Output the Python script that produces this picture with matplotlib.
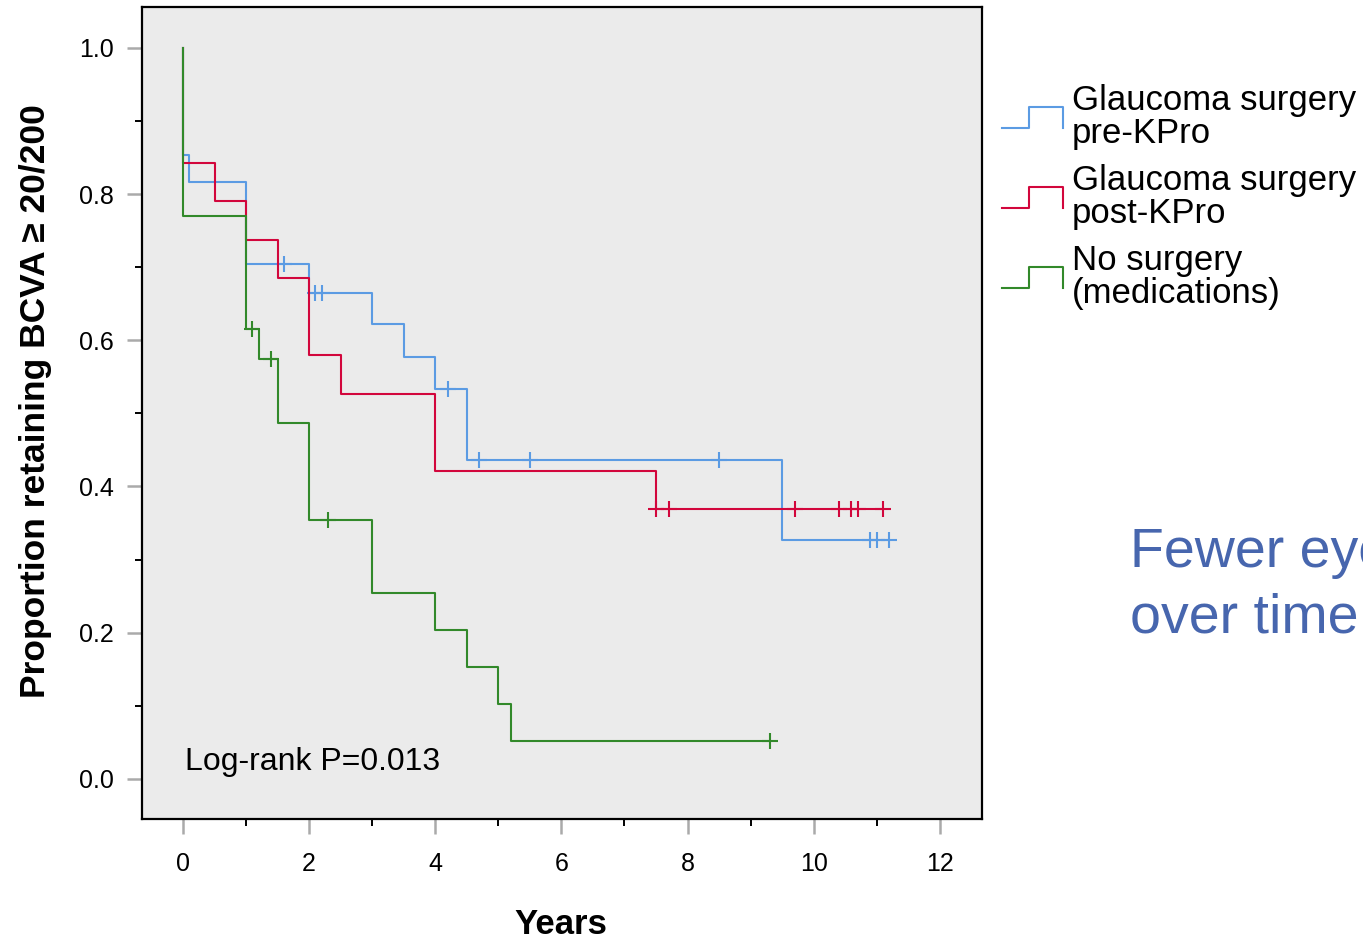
import numpy as np
import matplotlib
matplotlib.use('Agg')
from matplotlib import pyplot as plt
from matplotlib.lines import Line2D
from matplotlib.legend_handler import HandlerBase
from matplotlib.ticker import MultipleLocator

plt.rcParams['font.family'] = ['Liberation Sans', 'DejaVu Sans']

# Kaplan-Meier steps (time, proportion)
pre_t = [0, 0, 0.1, 1.0, 2.0, 3.0, 3.5, 4.0, 4.5, 9.5, 11.2]
pre_s = [1.0, 0.854, 0.816, 0.705, 0.665, 0.622, 0.577, 0.533, 0.436, 0.327, 0.327]
pre_cens = [1.6, 2.1, 2.2, 4.2, 4.7, 5.5, 8.5, 10.9, 11.0, 11.2]

post_t = [0, 0, 0.5, 1.0, 1.5, 2.0, 2.5, 4.0, 7.5, 11.1]
post_s = [1.0, 0.842, 0.790, 0.737, 0.685, 0.580, 0.527, 0.421, 0.369, 0.369]
post_cens = [7.5, 7.7, 9.7, 10.4, 10.6, 10.7, 11.1]

med_t = [0, 0, 1.0, 1.2, 1.5, 2.0, 3.0, 4.0, 4.5, 5.0, 5.2, 9.3]
med_s = [1.0, 0.770, 0.616, 0.575, 0.487, 0.354, 0.254, 0.204, 0.153, 0.103, 0.052, 0.052]
med_cens = [1.1, 1.4, 2.3, 9.3]

labels = ['Glaucoma surgery\npre-KPro', 'Glaucoma surgery\npost-KPro',
          'No surgery\n(medications)']
colors = ['#5b9be3', '#d2063c', '#32892a']


class StepHandler(HandlerBase):
    # SPSS style step symbol: _|-|
    def create_artists(self, legend, orig, xd, yd, w, h, fs, trans):
        x0, x1, xm = -xd, -xd + w, -xd + w * 0.45
        lo, hi = -yd, -yd + h
        ln = Line2D([x0, xm, xm, x1, x1], [lo, lo, hi, hi, lo],
                    color=orig.get_color(), lw=1.5, transform=trans)
        return [ln]


fig = plt.figure(figsize=(13.63, 9.39), dpi=100)
ax = fig.add_axes([0.1042, 0.1278, 0.6163, 0.8647])
ax.set_facecolor('#ebebeb')

groups = [(pre_t, pre_s, pre_cens), (post_t, post_s, post_cens), (med_t, med_s, med_cens)]
handles = []
for (t, s, c), col, lab in zip(groups, colors, labels):
    ln, = ax.step(t, s, where='post', color=col, lw=1.5, label=lab)
    # censor marks sit on the curve
    idx = np.searchsorted(t, c, side='right') - 1
    ax.plot(c, np.array(s)[idx], ls='none', marker='+', ms=11, mew=1.5, color=col)
    handles.append(ln)

ax.set_xlim(-0.65, 12.67)
ax.set_ylim(-0.055, 1.056)
ax.xaxis.set_major_locator(MultipleLocator(2))
ax.xaxis.set_minor_locator(MultipleLocator(1))
ax.yaxis.set_minor_locator(MultipleLocator(0.1))
ax.set_yticks(np.arange(0, 1.01, 0.2))
ax.set_yticklabels(['0.0', '0.2', '0.4', '0.6', '0.8', '1.0'])
ax.tick_params(which='major', direction='out', length=11, width=1.8, color='#aaaaaa', labelsize=18)
ax.tick_params(which='minor', direction='out', length=5, width=1.4, color='black')
ax.tick_params(axis='x', which='major', pad=13)
ax.tick_params(axis='y', which='major', pad=9)
for sp in ax.spines.values():
    sp.set_linewidth(1.6)

ax.set_ylabel('Proportion retaining BCVA \u2265 20/200', fontsize=25.5, fontweight='bold')
ax.yaxis.label.set_va('center')
ax.yaxis.set_label_coords(-0.127, 0.515)
ax.set_xlabel('Years', fontsize=25, fontweight='bold')
ax.xaxis.label.set_va('center')
ax.xaxis.set_label_coords(0.499, -0.13)

ax.text(0.03, 0.012, 'Log-rank P=0.013', fontsize=23, va='baseline', ha='left')

leg = fig.legend(handles, labels, handler_map={Line2D: StepHandler()},
                 loc='upper left', bbox_to_anchor=(0.735, 0.911), frameon=False,
                 fontsize=25, handlelength=1.76, handleheight=0.55, handletextpad=0.26,
                 labelspacing=0.38, borderpad=0, borderaxespad=0)
for txt in leg.get_texts():
    txt.set_linespacing(1.03)

fig.text(0.829, 0.396, 'Fewer eyes', fontsize=40, color='#4766ae', ha='left', va='baseline')
fig.text(0.829, 0.326, 'over time', fontsize=40, color='#4766ae', ha='left', va='baseline')

fig.savefig('out.png', dpi=100)
